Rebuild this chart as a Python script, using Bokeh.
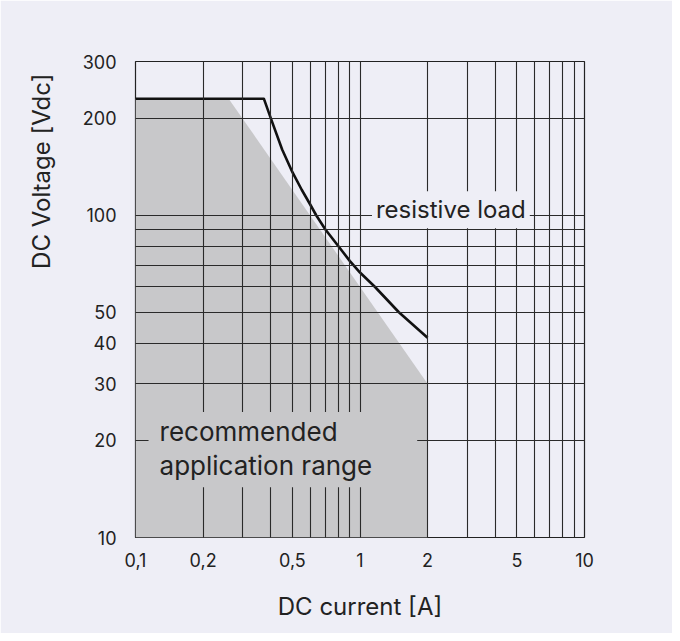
from bokeh.plotting import figure
from bokeh.models import Label, Title, FixedTicker, CustomJSTickFormatter
from bokeh.embed import file_html
from bokeh.resources import INLINE

# ---- data ----
x_ticks = [0.1, 0.2, 0.5, 1, 2, 5, 10]
y_ticks = [10, 20, 30, 40, 50, 100, 200, 300]
x_grid = [0.2, 0.3, 0.4, 0.5, 0.6, 0.7, 0.8, 0.9, 1, 2, 3, 4, 5, 6, 7, 8, 9]
y_grid = [20, 30, 40, 50, 60, 70, 80, 90, 100, 200]

# resistive load limit curve
rl_current = [0.1, 0.373, 0.4, 0.45, 0.5, 0.55, 0.6, 0.638, 0.7, 0.8, 0.9, 1.0, 1.164, 1.49, 2.0]
rl_voltage = [230, 230, 200.5, 160, 136, 120, 108, 100, 90.5, 80.3, 72.2, 66.4, 60, 50, 41.7]

# recommended application range (shaded)
area_current = [0.1, 0.26, 2, 2, 0.1]
area_voltage = [230, 230, 30, 10, 10]

BG = "#EEEEF6"
GREY = "#C8C8CA"
INK = "#222222"
FONT = "Inter"

p = figure(width=672, height=633, x_axis_type="log", y_axis_type="log",
           x_range=(0.1, 10), y_range=(10, 300),
           output_backend="svg", toolbar_location=None,
           min_border_left=135, min_border_right=88,
           min_border_top=61, min_border_bottom=96)
p.background_fill_color = BG
p.border_fill_color = BG
p.outline_line_color = INK
p.outline_line_width = 1.2

p.patch(area_current, area_voltage, fill_color=GREY, line_color=None)
p.line(rl_current, rl_voltage, line_color="#111111", line_width=2.6,
       line_join="round")

# grid
p.xgrid.ticker = FixedTicker(ticks=x_grid)
p.ygrid.ticker = FixedTicker(ticks=y_grid)
for g in (p.xgrid, p.ygrid):
    g.grid_line_color = "#2a2a2a"
    g.grid_line_width = 1.1
    g.grid_line_alpha = 1.0
    g.level = "guide"

# axes
p.xaxis.ticker = FixedTicker(ticks=x_ticks)
p.yaxis.ticker = FixedTicker(ticks=y_ticks)
p.xaxis.formatter = CustomJSTickFormatter(code="return String(tick).replace('.', ',');")
for ax in (p.xaxis, p.yaxis):
    ax.axis_line_color = None
    ax.major_tick_line_color = None
    ax.minor_tick_line_color = None
    ax.major_tick_out = 0
    ax.major_tick_in = 0
    ax.minor_tick_out = 0
    ax.minor_tick_in = 0
    ax.major_label_text_font = FONT
    ax.major_label_text_font_size = "18px"
    ax.major_label_text_color = INK
p.xaxis.major_label_standoff = 15
p.yaxis.major_label_standoff = 19

p.xaxis.axis_label = "DC current [A]"
p.xaxis.axis_label_text_font = FONT
p.xaxis.axis_label_text_font_size = "24px"
p.xaxis.axis_label_text_font_style = "normal"
p.xaxis.axis_label_text_color = INK
p.xaxis.axis_label_standoff = 22

ytitle = Title(text="DC Voltage [Vdc]", align="right", offset=12, standoff=48,
               text_font=FONT, text_font_size="24px",
               text_font_style="normal", text_color=INK)
p.add_layout(ytitle, "left")

rl_label = Label(x=2.54, y=104, text="resistive load",
                 text_align="center", text_baseline="middle",
                 text_font=FONT, text_font_size="24px", text_color=INK,
                 background_fill_color=BG, padding=4)
p.add_layout(rl_label)

rec_kwargs = dict(x=0.1143, y=24.5, text="recommended\napplication range",
                  text_align="left", text_baseline="top",
                  text_font=FONT, text_font_size="26px", text_color=INK,
                  text_line_height=1.1, background_fill_color=GREY)
try:
    rec_label = Label(padding=dict(left=11, right=45, top=4, bottom=6), **rec_kwargs)
except Exception:
    rec_label = Label(padding=8, **rec_kwargs)
p.add_layout(rec_label)

open("out.html", "w").write(file_html(p, INLINE))
